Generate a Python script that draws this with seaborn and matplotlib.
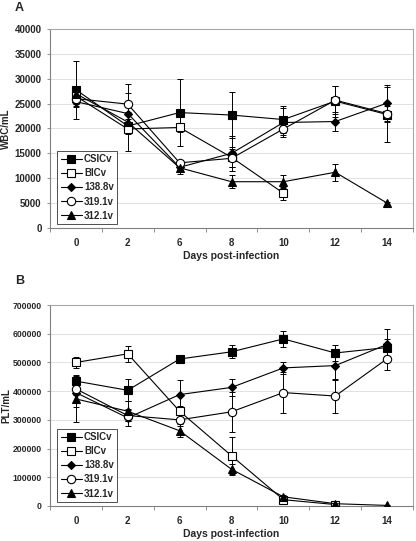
import numpy as np
import pandas as pd
import seaborn as sns
import matplotlib.pyplot as plt
from matplotlib.ticker import FixedLocator, MultipleLocator

# category labels (days are plotted as equally spaced categories)
days = ['0', '2', '6', '8', '10', '12', '14']
strains = ['CSICv', 'BICv', '138.8v', '319.1v', '312.1v']

# WBC/mL means
wbc_csicv = [27800, 20500, 23200, 22700, 21800, 25500, 22800]
wbc_bicv = [26500, 19900, 20200, 14200, 7000, np.nan, np.nan]
wbc_1388 = [25400, 23000, 12200, 15000, 21200, 21400, 25100]
wbc_3191 = [26000, 24900, 13100, 14000, 19900, 25700, 23000]
wbc_3121 = [27000, 21300, 12100, 9300, 9300, 11200, 5000]
# WBC/mL error
wbc_csicv_sd = [5800, 1500, 6800, 4600, 2800, 3100, 5500]
wbc_bicv_sd = [1500, 4400, 1000, 2000, 1300, np.nan, np.nan]
wbc_1388_sd = [1000, 4200, 800, 3500, 3000, 2000, 3700]
wbc_3191_sd = [1500, 4000, 500, 1800, 1200, 2800, 1500]
wbc_3121_sd = [1000, 2000, 1200, 1300, 1300, 1700, 300]

# PLT/mL means
plt_csicv = [435000, 403000, 512000, 537000, 582000, 533000, 552000]
plt_bicv = [500000, 530000, 330000, 175000, 22000, 5000, np.nan]
plt_1388 = [395000, 307000, 388000, 413000, 481000, 489000, 563000]
plt_3191 = [408000, 315000, 300000, 328000, 395000, 383000, 513000]
plt_3121 = [373000, 330000, 262000, 128000, 32000, 8000, 2000]
# PLT/mL error
plt_csicv_sd = [20000, 38000, 15000, 22000, 28000, 28000, 30000]
plt_bicv_sd = [18000, 28000, 20000, 65000, 5000, 2000, np.nan]
plt_1388_sd = [50000, 30000, 50000, 30000, 20000, 50000, 55000]
plt_3191_sd = [20000, 20000, 20000, 70000, 70000, 58000, 40000]
plt_3121_sd = [80000, 35000, 22000, 20000, 8000, 3000, 1000]

# marker styles per strain
markers = ['s', 's', 'D', 'o', '^']
faces = ['black', 'white', 'black', 'white', 'black']
msizes = [5.5, 5.5, 4.5, 6, 6]

sns.set_style('white')
plt.rcParams['font.family'] = ['Liberation Sans', 'DejaVu Sans']
plt.rcParams['font.weight'] = 'bold'

fig = plt.figure(figsize=(4.16, 5.41), dpi=100)
axA = fig.add_axes([0.120, 0.5786, 0.873, 0.3678])
axB = fig.add_axes([0.120, 0.0647, 0.873, 0.3715])


def draw_panel(ax, means, sds, ymax, ystep, ylabel, ytick_size):
    x = np.arange(len(days))
    for i, name in enumerate(strains):
        df = pd.DataFrame({'x': x, 'y': means[i], 'sd': sds[i]}).dropna()
        ax.errorbar(df['x'], df['y'], yerr=df['sd'], fmt='none', ecolor='black',
                    elinewidth=0.7, capsize=2, capthick=0.7, zorder=2)
        sns.lineplot(data=df, x='x', y='y', ax=ax, color='black', lw=0.8,
                     marker=markers[i], markerfacecolor=faces[i], markeredgecolor='black',
                     markeredgewidth=0.8, markersize=msizes[i], label=name,
                     errorbar=None, zorder=3 + i)
    ax.set_xlim(-0.5, len(days) - 0.5)
    ax.set_ylim(0, ymax)
    ax.xaxis.set_major_locator(FixedLocator(x))
    ax.set_xticklabels(days)
    ax.xaxis.set_minor_locator(FixedLocator(np.arange(len(days) + 1) - 0.5))
    ax.yaxis.set_major_locator(MultipleLocator(ystep))
    ax.tick_params(axis='x', which='major', length=0, labelsize=7, pad=7)
    ax.tick_params(axis='x', which='minor', length=3, width=0.6, color='#808080', direction='out', bottom=True)
    ax.tick_params(axis='y', length=2, width=0.6, color='#808080', labelsize=ytick_size, pad=4, left=True)
    for lab in ax.get_xticklabels() + ax.get_yticklabels():
        lab.set_fontweight('bold')
    ax.grid(axis='y', color='#dcdcdc', lw=0.6)
    ax.set_axisbelow(True)
    for side in ['top', 'right']:
        ax.spines[side].set_color('#a6a6a6')
        ax.spines[side].set_linewidth(0.8)
    for side in ['left', 'bottom']:
        ax.spines[side].set_color('#808080')
        ax.spines[side].set_linewidth(0.8)
    ax.set_xlabel('Days post-infection', fontsize=7.5, fontweight='bold')
    ax.xaxis.set_label_coords(0.5, -0.115)
    ax.set_ylabel(ylabel, fontsize=7, fontweight='bold')
    ax.yaxis.set_label_coords(-0.106, 0.5)
    leg = ax.legend(loc='lower left', bbox_to_anchor=(0.02, 0.02), fontsize=7,
                    frameon=True, fancybox=False, edgecolor='black', handlelength=2.2,
                    handletextpad=0.2, labelspacing=0.42, borderpad=0.35, borderaxespad=0)
    leg.get_frame().set_linewidth(0.6)
    for t in leg.get_texts():
        t.set_fontweight('bold')


draw_panel(axA, [wbc_csicv, wbc_bicv, wbc_1388, wbc_3191, wbc_3121],
           [wbc_csicv_sd, wbc_bicv_sd, wbc_1388_sd, wbc_3191_sd, wbc_3121_sd],
           40000, 5000, 'WBC/mL', 7)
draw_panel(axB, [plt_csicv, plt_bicv, plt_1388, plt_3191, plt_3121],
           [plt_csicv_sd, plt_bicv_sd, plt_1388_sd, plt_3191_sd, plt_3121_sd],
           700000, 100000, 'PLT/mL', 6.2)

fig.text(15 / 416, 1 - 8 / 541, 'A', fontsize=9, fontweight='bold', va='center')
fig.text(15 / 416, 1 - 281 / 541, 'B', fontsize=9, fontweight='bold', va='center')

fig.savefig('out.png', dpi=100)
